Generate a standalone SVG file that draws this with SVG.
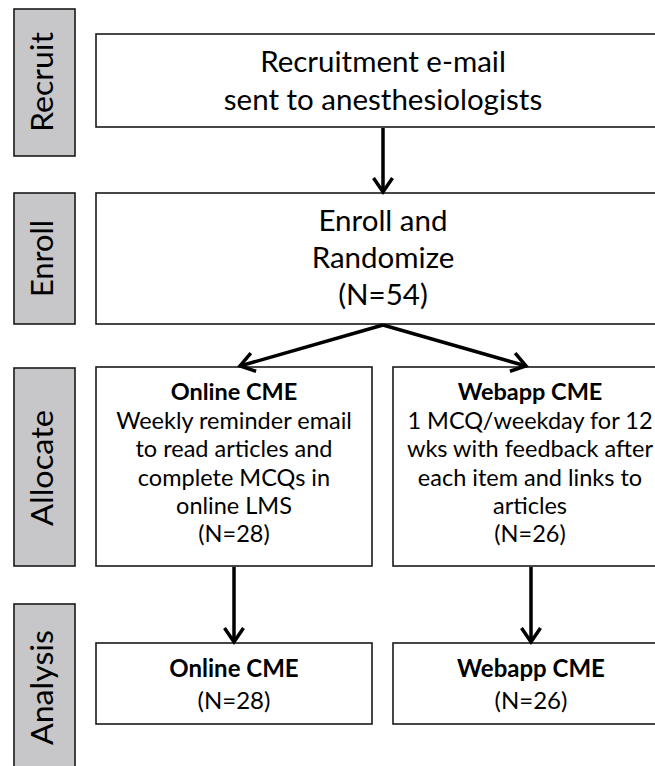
<svg xmlns="http://www.w3.org/2000/svg" width="655" height="766" viewBox="0 0 655 766">
<defs>
<marker id="ah" markerUnits="userSpaceOnUse" markerWidth="40" markerHeight="40" viewBox="-20 -20 40 40" refX="0" refY="0" orient="auto">
<path d="M-14,-9.5 L0,0 L-14,9.5" fill="none" stroke="#000" stroke-width="3.5" stroke-linejoin="miter"/>
</marker>
<style>
.side{fill:#c7c7c9;stroke:#1a1a1a;stroke-width:1.6}
.box{fill:#fff;stroke:#1a1a1a;stroke-width:1.6}
text{font-family:Lato,"Liberation Sans",sans-serif;fill:#000;text-anchor:middle}
.lbl{font-size:30px}
.big{font-size:29.5px}
.mid{font-size:23.5px}
.sm{font-size:24px}
.b{font-weight:bold}
.conn{stroke:#000;stroke-width:3.5;fill:none;marker-end:url(#ah)}
</style>
</defs>
<rect width="655" height="766" fill="#fff"/>

<g id="side-recruit">
<rect class="side" x="14" y="9" width="61" height="147"/>
<text class="lbl" transform="translate(53,82) rotate(-90)" textLength="100" lengthAdjust="spacingAndGlyphs">Recruit</text>
</g>
<g id="side-enroll">
<rect class="side" x="14" y="193" width="61" height="131"/>
<text class="lbl" transform="translate(53,258.5) rotate(-90)" textLength="77" lengthAdjust="spacingAndGlyphs">Enroll</text>
</g>
<g id="side-allocate">
<rect class="side" x="14" y="368" width="61" height="198"/>
<text class="lbl" transform="translate(53,468) rotate(-90)" textLength="116" lengthAdjust="spacingAndGlyphs">Allocate</text>
</g>
<g id="side-analysis">
<rect class="side" x="14" y="604" width="61" height="170"/>
<text class="lbl" transform="translate(53,687.5) rotate(-90)" textLength="115" lengthAdjust="spacingAndGlyphs">Analysis</text>
</g>

<g id="recruit">
<rect class="box" x="96" y="34" width="574" height="93"/>
<text class="big" x="383" y="72">Recruitment e-mail</text>
<text class="big" x="383" y="110">sent to anesthesiologists</text>
</g>

<g id="enroll">
<rect class="box" x="96" y="193" width="574" height="131"/>
<text class="big" x="383" y="231">Enroll and</text>
<text class="big" x="383" y="268">Randomize</text>
<text class="big" x="383" y="305">(N=54)</text>
</g>

<g id="alloc-online">
<rect class="box" x="96" y="367" width="276" height="199"/>
<text class="mid b" x="234" y="400">Online CME</text>
<text class="mid" x="234" y="428.5">Weekly reminder email</text>
<text class="mid" x="234" y="457">to read articles and</text>
<text class="mid" x="234" y="485.5">complete MCQs in</text>
<text class="mid" x="234" y="514">online LMS</text>
<text class="mid" x="234" y="542">(N=28)</text>
</g>

<g id="alloc-webapp">
<rect class="box" x="393" y="367" width="277" height="199"/>
<text class="mid b" x="530" y="400">Webapp CME</text>
<text class="mid" x="530" y="428.5">1 MCQ/weekday for 12</text>
<text class="mid" x="530" y="457">wks with feedback after</text>
<text class="mid" x="530" y="485.5">each item and links to</text>
<text class="mid" x="530" y="514">articles</text>
<text class="mid" x="530" y="542">(N=26)</text>
</g>

<g id="analysis-online">
<rect class="box" x="96" y="643" width="276" height="81"/>
<text class="sm b" x="234" y="677">Online CME</text>
<text class="sm" x="234" y="709">(N=28)</text>
</g>

<g id="analysis-webapp">
<rect class="box" x="393" y="643" width="277" height="81"/>
<text class="sm b" x="531" y="677">Webapp CME</text>
<text class="sm" x="531" y="709">(N=26)</text>
</g>

<g id="connectors">
<line class="conn" x1="383" y1="128" x2="383" y2="192"/>
<line class="conn" x1="383" y1="325" x2="240" y2="366"/>
<line class="conn" x1="383" y1="325" x2="526" y2="366"/>
<line class="conn" x1="234" y1="567" x2="234" y2="642"/>
<line class="conn" x1="531" y1="567" x2="531" y2="642"/>
</g>
</svg>
